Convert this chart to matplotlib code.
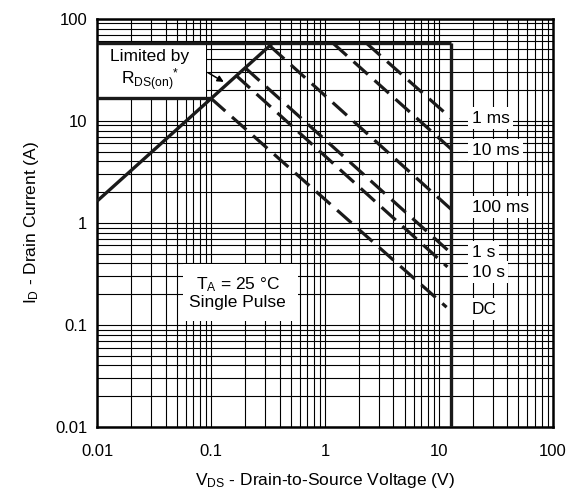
import matplotlib
matplotlib.use("Agg")
import matplotlib.pyplot as plt
from matplotlib.patches import Rectangle
from matplotlib.ticker import LogLocator, FixedLocator, FixedFormatter, NullFormatter

plt.rcParams['font.family'] = ['Liberation Sans', 'DejaVu Sans']
plt.rcParams['mathtext.fontset'] = 'custom'
plt.rcParams['mathtext.rm'] = 'Liberation Sans'
plt.rcParams['mathtext.it'] = 'Liberation Sans'

# limit lines (V, A)
rds_v = [0.01, 0.35]
rds_i = [1.63, 58]
idm_v = [0.01, 12.8]
idm_i = [58, 58]
id_v = [0.01, 0.1]
id_i = [16.6, 16.6]
vds_v = [12.8, 12.8]
vds_i = [0.01, 58]

# pulse lines: start / end points
pulse_labels = ["1 ms", "10 ms", "100 ms", "1 s", "10 s", "DC"]
pulse_v = [[2.3, 12.8], [1.17, 12.8], [0.33, 12.8], [0.2, 12.2], [0.165, 11.9], [0.1, 11.7]]
pulse_i = [[58, 10.6], [58, 5.3], [54, 1.36], [33, 0.53], [28, 0.37], [16.6, 0.149]]
label_i = [10.6, 5.14, 1.42, 0.514, 0.327, 0.142]

x_ticks = [0.01, 0.1, 1, 10, 100]
x_ticklabels = ["0.01", "0.1", "1", "10", "100"]
y_ticks = [0.01, 0.1, 1, 10, 100]
y_ticklabels = ["0.01", "0.1", "1", "10", "100"]

fig = plt.figure(figsize=(5.74, 4.93), dpi=100)
ax = fig.add_axes([0.169, 0.134, 0.794, 0.828])
ax.set_xscale('log')
ax.set_yscale('log')
ax.set_xlim(0.01, 100)
ax.set_ylim(0.01, 100)

ax.xaxis.set_major_locator(FixedLocator(x_ticks))
ax.xaxis.set_major_formatter(FixedFormatter(x_ticklabels))
ax.yaxis.set_major_locator(FixedLocator(y_ticks))
ax.yaxis.set_major_formatter(FixedFormatter(y_ticklabels))
ax.xaxis.set_minor_locator(LogLocator(base=10, subs=range(2, 10)))
ax.yaxis.set_minor_locator(LogLocator(base=10, subs=range(2, 10)))
ax.xaxis.set_minor_formatter(NullFormatter())
ax.yaxis.set_minor_formatter(NullFormatter())
ax.grid(which='both', color='black', lw=0.8, zorder=0)
ax.set_axisbelow(True)
ax.tick_params(which='both', length=0, labelsize=12)
ax.tick_params(axis='x', pad=12)
ax.tick_params(axis='y', pad=7)
for s in ax.spines.values():
    s.set_linewidth(1.8)

# white boxes behind the notes
ax.add_patch(Rectangle((0, 0.809), 0.239, 0.127, transform=ax.transAxes,
                       facecolor='white', edgecolor='none', zorder=1))
ax.add_patch(Rectangle((0.188, 0.259), 0.254, 0.140, transform=ax.transAxes,
                       facecolor='white', edgecolor='none', zorder=1))

solid = dict(color='#1a1a1a', lw=2.4, solid_capstyle='butt', zorder=3)
ax.plot(rds_v, rds_i, **solid)
ax.plot(idm_v, idm_i, **solid)
ax.plot(id_v, id_i, **solid)
ax.plot(vds_v, vds_i, **solid)

for v, i, lab, li in zip(pulse_v, pulse_i, pulse_labels, label_i):
    ax.plot(v, i, color='#1a1a1a', lw=2.3, dashes=(6, 2.8), dash_capstyle='butt', zorder=3)
    ax.text(19.5, li, lab, fontsize=12.5, ha='left', va='center', zorder=4,
            bbox=dict(facecolor='white', edgecolor='none', pad=2.5))

ax.text(0.116, 0.872, "Limited by\n" + r"$\mathregular{R_{DS(on)}}^{*}$", transform=ax.transAxes,
        fontsize=12.5, ha='center', va='center', zorder=4, linespacing=1.1)
ax.annotate("", xy=(0.136, 23.3), xytext=(0.09, 30.5),
            arrowprops=dict(arrowstyle='-|>', color='black', lw=1.1, mutation_scale=9), zorder=4)

ax.text(0.309, 0.329, r"$\mathregular{T_A}$ = 25 °C" + "\nSingle Pulse", transform=ax.transAxes,
        fontsize=12.5, ha='center', va='center', zorder=4, linespacing=1.15)

ax.set_xlabel(r"$\mathregular{V_{DS}}$ - Drain-to-Source Voltage (V)", fontsize=12.5, labelpad=9)
ax.set_ylabel(r"$\mathregular{I_D}$ - Drain Current (A)", fontsize=12.5, labelpad=10)

fig.savefig("out.png", dpi=100, facecolor='white')
